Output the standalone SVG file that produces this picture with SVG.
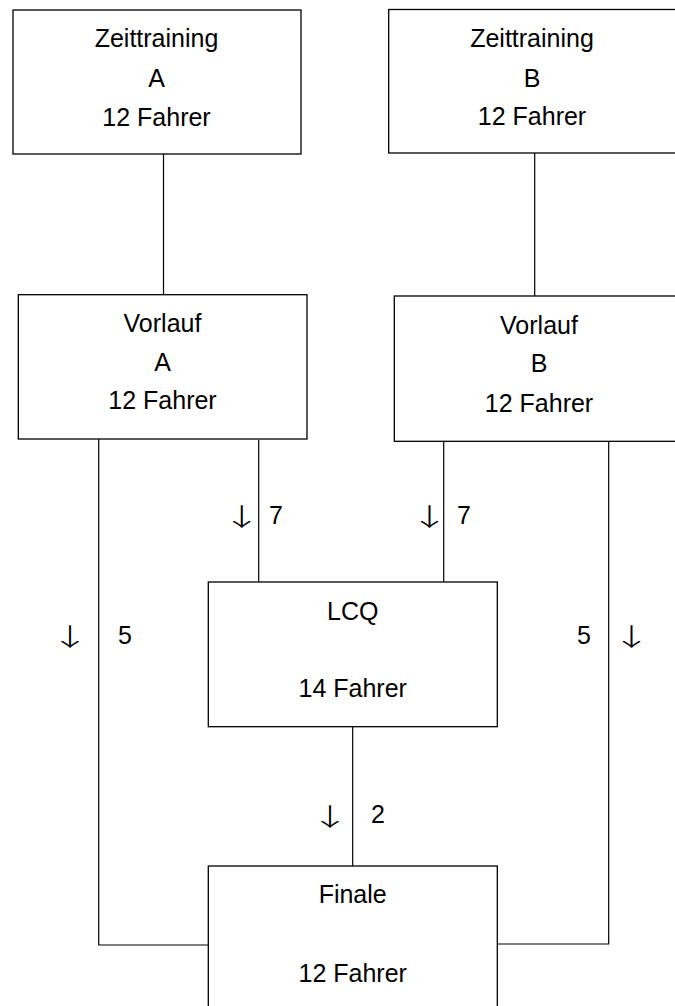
<svg xmlns="http://www.w3.org/2000/svg" width="675" height="1006" viewBox="0 0 675 1006">
<style>
.box{fill:#fff;stroke:#000;stroke-width:1.3}
.ln{fill:none;stroke:#000;stroke-width:1.2}
text{font-family:"Liberation Sans",Arial,sans-serif;font-size:25px;fill:#000}
.c{text-anchor:middle}
.ar{font-family:"Noto Sans CJK JP","DejaVu Sans",sans-serif;font-size:26px;font-weight:300;text-anchor:middle}
</style>
<rect width="675" height="1006" fill="#fff"/>
<g id="connectors">
<path class="ln" d="M163.5 154V295"/>
<path class="ln" d="M534.7 153V296"/>
<path class="ln" d="M258.7 440V582"/>
<path class="ln" d="M443.7 441V582"/>
<path class="ln" d="M352.7 727V866"/>
<path class="ln" d="M98.7 439V945H208.3"/>
<path class="ln" d="M608.7 441V944H497.3"/>
<text class="ar" transform="translate(241.7 526) scale(1.5 0.95)">↓</text><text x="269" y="524">7</text>
<text class="ar" transform="translate(429.5 526) scale(1.5 0.95)">↓</text><text x="457" y="524">7</text>
<text class="ar" transform="translate(70 646) scale(1.5 0.95)">↓</text><text x="118" y="644">5</text>
<text class="ar" transform="translate(631.5 646) scale(1.5 0.95)">↓</text><text x="577" y="644">5</text>
<text class="ar" transform="translate(330 826) scale(1.5 0.95)">↓</text><text x="371" y="823">2</text>
</g>
<g id="zeittraining-a">
<rect class="box" x="13" y="10" width="288" height="144"/>
<text class="c" x="156.5" y="47">Zeittraining</text>
<text class="c" x="156.5" y="87">A</text>
<text class="c" x="156.5" y="126">12 Fahrer</text>
</g>
<g id="zeittraining-b">
<rect class="box" x="388.7" y="9.5" width="300" height="143.5"/>
<text class="c" x="532" y="47">Zeittraining</text>
<text class="c" x="532" y="87">B</text>
<text class="c" x="532" y="125">12 Fahrer</text>
</g>
<g id="vorlauf-a">
<rect class="box" x="18.3" y="294.7" width="288.7" height="144.3"/>
<text class="c" x="162.5" y="332">Vorlauf</text>
<text class="c" x="162.5" y="371">A</text>
<text class="c" x="162.5" y="409">12 Fahrer</text>
</g>
<g id="vorlauf-b">
<rect class="box" x="394.3" y="296" width="300" height="145.3"/>
<text class="c" x="539" y="334">Vorlauf</text>
<text class="c" x="539" y="372">B</text>
<text class="c" x="539" y="411.5">12 Fahrer</text>
</g>
<g id="lcq">
<rect class="box" x="208.3" y="582" width="289" height="144.7"/>
<text class="c" x="352.7" y="620">LCQ</text>
<text class="c" x="352.7" y="697">14 Fahrer</text>
</g>
<g id="finale">
<rect class="box" x="208.3" y="866" width="289" height="160"/>
<text class="c" x="352.7" y="903">Finale</text>
<text class="c" x="352.7" y="981.5">12 Fahrer</text>
</g>
</svg>
